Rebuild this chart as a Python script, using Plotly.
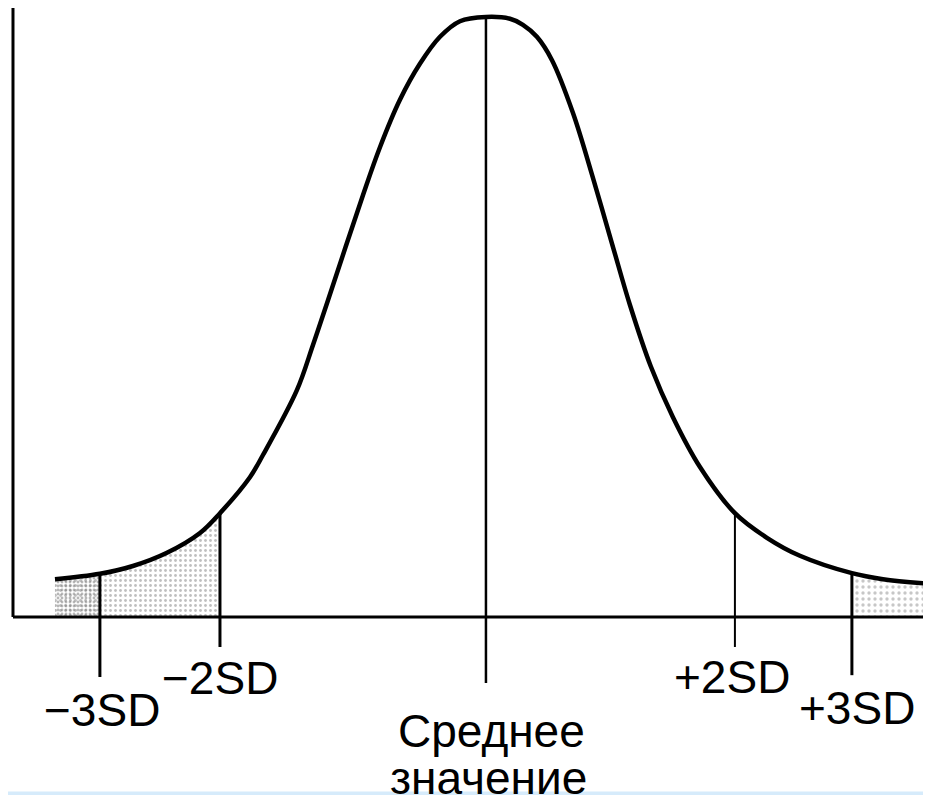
import plotly.graph_objects as go

# ---- data (x in SD units from the mean, y relative to peak) ----
curve_x = [-3.367, -3.016, -2.758, -2.492, -2.234, -2.078, -1.844, -1.742, -1.477, -1.352,
           -1.234, -0.961, -0.828, -0.672, -0.516, -0.359, -0.203, 0.0,
           0.188, 0.289, 0.398, 0.516, 0.680, 0.836, 0.992, 1.125, 1.289, 1.461,
           1.672, 1.945, 2.195, 2.453, 2.859, 3.102, 3.477]
curve_y = [0.063, 0.072, 0.085, 0.107, 0.140, 0.173, 0.233, 0.270, 0.378, 0.453,
           0.528, 0.703, 0.783, 0.862, 0.922, 0.967, 0.993, 1.000,
           0.997, 0.987, 0.967, 0.928, 0.840, 0.732, 0.617, 0.520, 0.417, 0.333,
           0.250, 0.173, 0.132, 0.102, 0.073, 0.063, 0.055]

sd_labels = ["−3SD", "−2SD", "+2SD", "+3SD"]
sd_positions = [-3.016, -2.078, 1.945, 2.859]
mean_position = 0.0
mean_label = ["Среднее", "значение"]

# ---- layout / style constants ----
X_MIN, X_MAX = -3.734, 3.477
Y_MIN, Y_MAX = -0.2967, 1.015
AXIS_X = -3.695
tick_bottoms = [-0.100, -0.050, -0.050, -0.097]
tick_widths = [3, 3, 2, 3]
mean_bottom = -0.110
label_y = [-0.155, -0.102, -0.100, -0.152]
label_dx = [0.02, 0.0, -0.02, 0.04]
FONT = "Liberation Sans, Arial, Helvetica, sans-serif"
LABEL_FONT = dict(family=FONT, size=46, color="black")


def curve_at(x):
    i = min(range(len(curve_x)), key=lambda k: abs(curve_x[k] - x))
    return curve_y[i]


fig = go.Figure()

# stippled tails
left_idx = [i for i, v in enumerate(curve_x) if v <= sd_positions[1]]
fig.add_trace(go.Scatter(
    x=[curve_x[i] for i in left_idx], y=[curve_y[i] for i in left_idx],
    mode="none", fill="tozeroy", line_shape="spline",
    fillpattern=dict(shape=".", fgcolor="#7f7f7f", bgcolor="rgba(255,255,255,0)",
                     size=5, solidity=0.25),
    hoverinfo="skip", showlegend=False))
far_left_idx = [i for i, v in enumerate(curve_x) if v <= sd_positions[0]]
fig.add_trace(go.Scatter(
    x=[curve_x[i] for i in far_left_idx], y=[curve_y[i] for i in far_left_idx],
    mode="none", fill="tozeroy", line_shape="spline",
    fillpattern=dict(shape=".", fgcolor="#6f6f6f", bgcolor="rgba(255,255,255,0)",
                     size=4, solidity=0.4),
    hoverinfo="skip", showlegend=False))
right_idx = [i for i, v in enumerate(curve_x) if v >= sd_positions[3]]
fig.add_trace(go.Scatter(
    x=[curve_x[i] for i in right_idx], y=[curve_y[i] for i in right_idx],
    mode="none", fill="tozeroy", line_shape="spline",
    fillpattern=dict(shape=".", fgcolor="#8f8f8f", bgcolor="rgba(255,255,255,0)",
                     size=6, solidity=0.25),
    hoverinfo="skip", showlegend=False))

# the bell curve
fig.add_trace(go.Scatter(
    x=curve_x, y=curve_y, mode="lines", line=dict(color="black", width=4.5, shape="spline"),
    hoverinfo="skip", showlegend=False))

# SD markers
for pos, bottom, w in zip(sd_positions, tick_bottoms, tick_widths):
    fig.add_trace(go.Scatter(
        x=[pos, pos], y=[curve_at(pos), bottom], mode="lines",
        line=dict(color="black", width=w), hoverinfo="skip", showlegend=False))
# mean line
fig.add_trace(go.Scatter(
    x=[mean_position, mean_position], y=[curve_at(mean_position), mean_bottom], mode="lines",
    line=dict(color="black", width=2.5), hoverinfo="skip", showlegend=False))

shapes = [
    dict(type="line", x0=AXIS_X, x1=AXIS_X, y0=0, y1=Y_MAX, line=dict(color="black", width=3)),
    dict(type="line", x0=AXIS_X, x1=X_MAX, y0=0, y1=0, line=dict(color="black", width=3)),
    dict(type="rect", xref="paper", yref="paper", x0=0, x1=1, y0=0, y1=0.0045,
         fillcolor="#d6ebfb", line=dict(width=0), layer="above"),
]

annotations = []
for lab, pos, ly, dx in zip(sd_labels, sd_positions, label_y, label_dx):
    annotations.append(dict(x=pos + dx, y=ly, text=lab, showarrow=False,
                            xanchor="center", yanchor="middle", font=LABEL_FONT))
annotations.append(dict(x=mean_position + 0.045, y=-0.19, text=mean_label[0], showarrow=False,
                        xanchor="center", yanchor="middle", font=LABEL_FONT))
annotations.append(dict(x=mean_position + 0.02, y=-0.268, text=mean_label[1], showarrow=False,
                        xanchor="center", yanchor="middle", font=LABEL_FONT))

fig.update_layout(
    width=923, height=787,
    margin=dict(l=0, r=0, t=0, b=0),
    paper_bgcolor="white", plot_bgcolor="white",
    xaxis=dict(range=[X_MIN, X_MAX], visible=False, fixedrange=True),
    yaxis=dict(range=[Y_MIN, Y_MAX], visible=False, fixedrange=True),
    shapes=shapes, annotations=annotations, showlegend=False,
)

fig.write_html("out.html")
